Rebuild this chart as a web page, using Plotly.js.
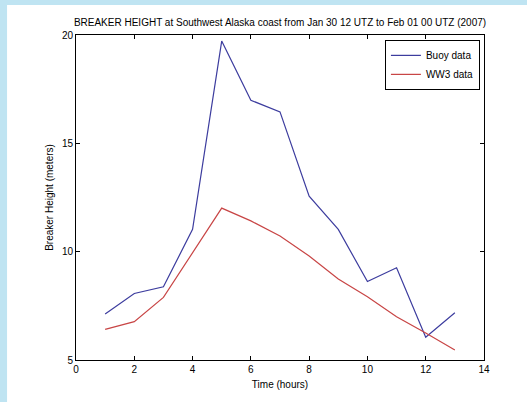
<!DOCTYPE html>
<html>
<head>
<meta charset="utf-8">
<script src="https://cdn.plot.ly/plotly-3.0.1.min.js"></script>
<style>
  html, body { margin: 0; padding: 0; background: #bfe4f2; }
  #chart { width: 527px; height: 402px; }
</style>
</head>
<body>
<div id="chart"></div>
<script>
const hours = [1, 2, 3, 4, 5, 6, 7, 8, 9, 10, 11, 12, 13];
const buoyData = [7.12, 8.07, 8.38, 11.03, 19.72, 16.99, 16.45, 12.56, 11.03, 8.62, 9.26, 6.05, 7.18];
const ww3Data = [6.41, 6.77, 7.89, 9.96, 12.01, 11.42, 10.72, 9.8, 8.74, 7.92, 7.0, 6.25, 5.46];
const xTicks = [0, 2, 4, 6, 8, 10, 12, 14];
const yTicks = [5, 10, 15, 20];

const font = { family: 'Liberation Sans, Arial, sans-serif', size: 10, color: '#000' };

const traces = [
  { x: hours, y: buoyData, type: 'scatter', mode: 'lines', name: 'Buoy data',
    line: { color: '#3c3c9e', width: 1.2 } },
  { x: hours, y: ww3Data, type: 'scatter', mode: 'lines', name: 'WW3 data',
    line: { color: '#c84545', width: 1.2 } }
];

const axisCommon = {
  showgrid: false, zeroline: false, showline: true, mirror: 'ticks',
  linecolor: '#000', linewidth: 1, ticks: 'inside', ticklen: 4, tickcolor: '#000',
  tickfont: font
};

const layout = {
  width: 527, height: 402,
  margin: { l: 76, r: 43, t: 35, b: 42 },
  paper_bgcolor: '#bfe4f2',
  plot_bgcolor: '#ffffff',
  font: font,
  title: { text: 'BREAKER HEIGHT at Southwest Alaska coast from Jan 30 12 UTZ to Feb 01 00 UTZ (2007)',
           font: { family: font.family, size: 10, color: '#000' },
           x: 0.5, xref: 'paper', xanchor: 'center', y: 0.945, yanchor: 'middle' },
  xaxis: Object.assign({}, axisCommon, {
    range: [0, 14], tickvals: xTicks, ticktext: xTicks.map(String),
    title: { text: 'Time (hours)', font: font, standoff: 6 }
  }),
  yaxis: Object.assign({}, axisCommon, {
    range: [5, 20], tickvals: yTicks, ticktext: yTicks.map(String),
    title: { text: 'Breaker Height (meters)', font: font, standoff: 6 }
  }),
  showlegend: true,
  legend: {
    x: 0.99, y: 0.985, xanchor: 'right', yanchor: 'top',
    bgcolor: '#ffffff', bordercolor: '#000', borderwidth: 1,
    font: font, tracegroupgap: 0, itemwidth: 30
  },
  shapes: [
    { type: 'rect', xref: 'paper', yref: 'paper', layer: 'below',
      x0: -0.169, x1: 1.2, y0: -0.3, y1: 1.092,
      fillcolor: '#ffffff', line: { width: 0 } }
  ]
};

Plotly.newPlot('chart', traces, layout, { displayModeBar: false, staticPlot: true });
</script>
</body>
</html>
